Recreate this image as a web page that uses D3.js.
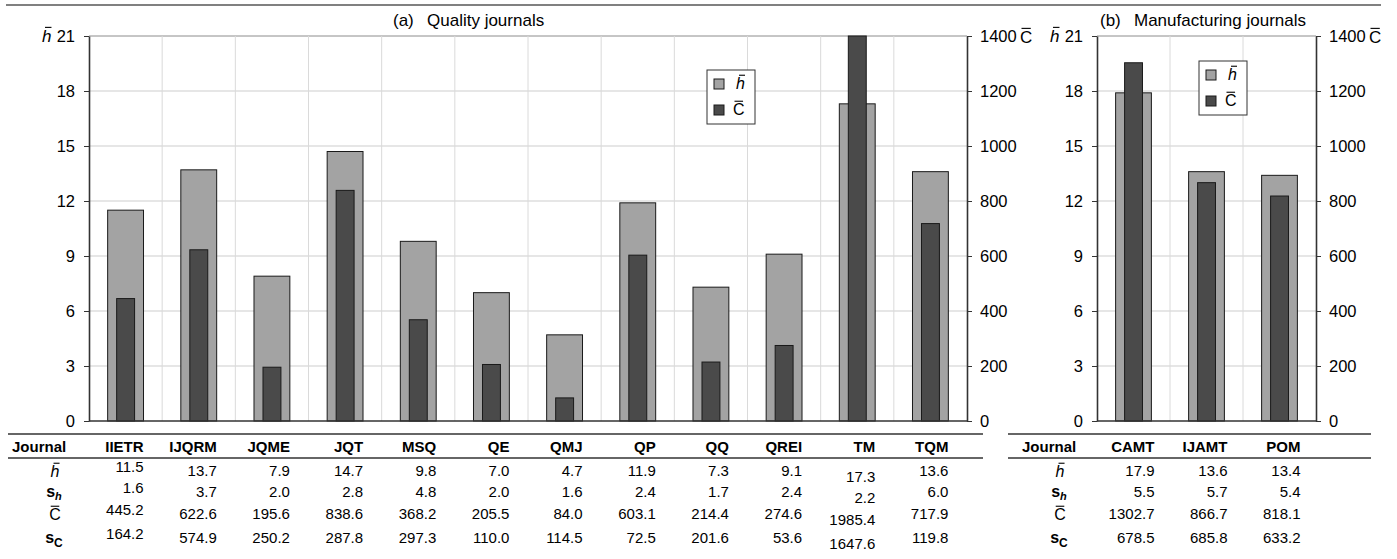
<!DOCTYPE html>
<html>
<head>
<meta charset="utf-8">
<script src="https://cdn.jsdelivr.net/npm/d3@7"></script>
<style>
  body { margin: 0; background: #fff; }
  svg { font-family: Arial, "Liberation Sans", sans-serif; }
</style>
</head>
<body>
<svg id="chart" width="1397" height="559"></svg>
<script>
// (a) quality journals
var journalsQ = ["IIETR", "IJQRM", "JQME", "JQT", "MSQ", "QE", "QMJ", "QP", "QQ", "QREI", "TM", "TQM"];
var hMeanQ = [11.5, 13.7, 7.9, 14.7, 9.8, 7.0, 4.7, 11.9, 7.3, 9.1, 17.3, 13.6];
var hSdQ   = [1.6, 3.7, 2.0, 2.8, 4.8, 2.0, 1.6, 2.4, 1.7, 2.4, 2.2, 6.0];
var cMeanQ = [445.2, 622.6, 195.6, 838.6, 368.2, 205.5, 84.0, 603.1, 214.4, 274.6, 1985.4, 717.9];
var cSdQ   = [164.2, 574.9, 250.2, 287.8, 297.3, 110.0, 114.5, 72.5, 201.6, 53.6, 1647.6, 119.8];

// (b) manufacturing journals
var journalsM = ["CAMT", "IJAMT", "POM"];
var hMeanM = [17.9, 13.6, 13.4];
var hSdM   = [5.5, 5.7, 5.4];
var cMeanM = [1302.7, 866.7, 818.1];
var cSdM   = [678.5, 685.8, 633.2];

// axis ticks
var hTicks = [0, 3, 6, 9, 12, 15, 18, 21];
var cTicks = [0, 200, 400, 600, 800, 1000, 1200, 1400];

// layout
var plotTop = 36, plotBottom = 421;
var rowY = [471, 492, 514, 538];          // table rows (h, sh, C, sC)
var colNudge = {IIETR: -4, TM: 6};        // excel puts these cells a bit off

var hFill = "#a3a3a3", cFill = "#4a4a4a";

var svg = d3.select("#chart");

var yH = d3.scaleLinear().domain([0, 21]).range([plotBottom, plotTop]);
var yC = d3.scaleLinear().domain([0, 1400]).range([plotBottom, plotTop]).clamp(true);

// line across the top of the figure
svg.append("line")
    .attr("x1", 6).attr("x2", 1381).attr("y1", 5).attr("y2", 5)
    .attr("stroke", "#808080").attr("stroke-width", 2);

// text with a bar over it (h-bar, C-bar)
function overText(sel, x, y, txt, fs, italic, anchor) {
    var t = sel.append("text")
        .attr("x", x).attr("y", y)
        .attr("font-size", fs)
        .attr("text-anchor", anchor || "start")
        .attr("fill", "#000")
        .style("font-style", italic ? "italic" : "normal")
        .text(txt);
    var b = t.node().getBBox();
    var shift = italic ? 1.5 : 0;
    sel.append("line")
        .attr("x1", b.x + 1.5 + shift).attr("x2", b.x + b.width - 1.5 + shift)
        .attr("y1", y - 0.86 * fs).attr("y2", y - 0.86 * fs)
        .attr("stroke", "#000").attr("stroke-width", 1.1);
    return t;
}

function drawPanel(p) {
    var x = d3.scaleBand().domain(p.names).range([p.left, p.right]);
    var bw = x.bandwidth();
    var g = svg.append("g");

    // grid
    g.selectAll(".hgrid").data(hTicks.slice(1)).enter().append("line")
        .attr("x1", p.left).attr("x2", p.right)
        .attr("y1", function(d) { return yH(d); })
        .attr("y2", function(d) { return yH(d); })
        .attr("stroke", function(d) { return d === 21 ? "#8c8c8c" : "#cdcdcd"; })
        .attr("stroke-width", 1);
    g.selectAll(".vgrid").data(p.names.slice(1)).enter().append("line")
        .attr("x1", function(d) { return x(d); })
        .attr("x2", function(d) { return x(d); })
        .attr("y1", plotTop).attr("y2", plotBottom)
        .attr("stroke", "#dadada").attr("stroke-width", 1);

    var rows = p.names.map(function(n, i) {
        return {name: n, h: p.h[i], hs: p.hs[i], c: p.c[i], cs: p.cs[i]};
    });

    // h bars (wide) then C bars (narrow) on top
    g.selectAll(".hbar").data(rows).enter().append("rect")
        .attr("x", function(d) { return x(d.name) + bw * 0.255; })
        .attr("width", bw * 0.49)
        .attr("y", function(d) { return yH(d.h); })
        .attr("height", function(d) { return plotBottom - yH(d.h); })
        .attr("fill", hFill).attr("stroke", "#1a1a1a").attr("stroke-width", 1);
    g.selectAll(".cbar").data(rows).enter().append("rect")
        .attr("x", function(d) { return x(d.name) + bw * 0.378; })
        .attr("width", bw * 0.245)
        .attr("y", function(d) { return yC(d.c); })
        .attr("height", function(d) { return plotBottom - yC(d.c); })
        .attr("fill", cFill).attr("stroke", "#1a1a1a").attr("stroke-width", 1);

    // axes
    var axL = g.append("g").attr("transform", "translate(" + p.left + ",0)")
        .call(d3.axisLeft(yH).tickValues(hTicks).tickSize(5).tickSizeOuter(0).tickPadding(9));
    var axR = g.append("g").attr("transform", "translate(" + p.right + ",0)")
        .call(d3.axisRight(yC).tickValues(cTicks).tickSize(5).tickSizeOuter(0).tickPadding(8)
            .tickFormat(d3.format("d")));
    [axL, axR].forEach(function(a) {
        a.select(".domain").attr("stroke", "#333").attr("stroke-width", 1.6);
        a.selectAll(".tick line").attr("stroke", "#333");
        a.selectAll("text").attr("font-size", 16.5).attr("fill", "#000")
            .attr("font-family", "Arial, 'Liberation Sans', sans-serif");
    });
    g.append("line")
        .attr("x1", p.left).attr("x2", p.right)
        .attr("y1", plotBottom).attr("y2", plotBottom)
        .attr("stroke", "#333").attr("stroke-width", 1.6);

    // axis names
    overText(g, p.left - 47, yH(21) + 6, "h", 17, true);
    overText(g, p.right + 53, yC(1400) + 7, "C", 17, false);

    // title
    g.append("text").attr("x", p.titleX).attr("y", 26).attr("font-size", 17).text(p.letter);
    g.append("text").attr("x", p.titleX + 34).attr("y", 26).attr("font-size", 17).text(p.title);

    // legend
    var lg = g.append("g").attr("transform", "translate(" + p.legX + "," + p.legY + ")");
    lg.append("rect").attr("width", 48).attr("height", 54)
        .attr("fill", "#fff").attr("stroke", "#333").attr("stroke-width", 1);
    [{fill: hFill, label: "h", italic: true}, {fill: cFill, label: "C", italic: false}]
        .forEach(function(it, i) {
            lg.append("rect").attr("x", 7).attr("y", 9 + i * 26).attr("width", 10).attr("height", 10)
                .attr("fill", it.fill).attr("stroke", "#1a1a1a");
            overText(lg, it.italic ? 29 : 26, 19 + i * 26, it.label, 16, it.italic);
        });

    // table
    var tb = svg.append("g");
    [434, 458].forEach(function(yy) {
        tb.append("line").attr("x1", p.t0).attr("x2", p.t1).attr("y1", yy).attr("y2", yy)
            .attr("stroke", "#333").attr("stroke-width", 1.4);
    });
    tb.append("text").attr("x", p.journalX).attr("y", 447).attr("dy", "0.35em")
        .attr("font-size", 15).attr("font-weight", "bold").text("Journal");

    // row labels
    var lx = p.labelX;
    overText(tb, lx, rowY[0] + 6, "h", 16, true, "middle");
    var sh = tb.append("text").attr("x", lx - 1).attr("y", rowY[1] + 5).attr("text-anchor", "middle")
        .attr("font-size", 16).attr("font-weight", "bold");
    sh.append("tspan").text("s");
    sh.append("tspan").attr("dy", 3).attr("font-size", 11).style("font-style", "italic").text("h");
    overText(tb, lx, rowY[2] + 6, "C", 16, false, "middle");
    var sc = tb.append("text").attr("x", lx - 1).attr("y", rowY[3] + 5).attr("text-anchor", "middle")
        .attr("font-size", 16).attr("font-weight", "bold");
    sc.append("tspan").text("s");
    sc.append("tspan").attr("dy", 4).attr("font-size", 12).text("C");

    // columns
    var cols = tb.selectAll(".col").data(rows).enter().append("g")
        .attr("transform", function(d) {
            return "translate(" + (x(d.name) + bw / 2 + p.colOff) + ",0)";
        })
        .attr("text-anchor", "end").attr("font-size", 15);
    cols.append("text").attr("y", 447).attr("dy", "0.35em").attr("font-weight", "bold")
        .text(function(d) { return d.name; });
    ["h", "hs", "c", "cs"].forEach(function(k, r) {
        cols.append("text")
            .attr("y", function(d) { return rowY[r] + (colNudge[d.name] || 0); })
            .attr("dy", "0.35em")
            .text(function(d) { return d[k].toFixed(1); });
    });
}

drawPanel({
    names: journalsQ, h: hMeanQ, hs: hSdQ, c: cMeanQ, cs: cSdQ,
    left: 89, right: 967, letter: "(a)", title: "Quality journals", titleX: 393,
    legX: 707, legY: 70,
    t0: 8, t1: 983, journalX: 12, labelX: 55, colOff: 18
});
drawPanel({
    names: journalsM, h: hMeanM, hs: hSdM, c: cMeanM, cs: cSdM,
    left: 1097, right: 1316, letter: "(b)", title: "Manufacturing journals", titleX: 1100,
    legX: 1199, legY: 61,
    t0: 1008, t1: 1371, journalX: 1022, labelX: 1060, colOff: 21
});
</script>
</body>
</html>
